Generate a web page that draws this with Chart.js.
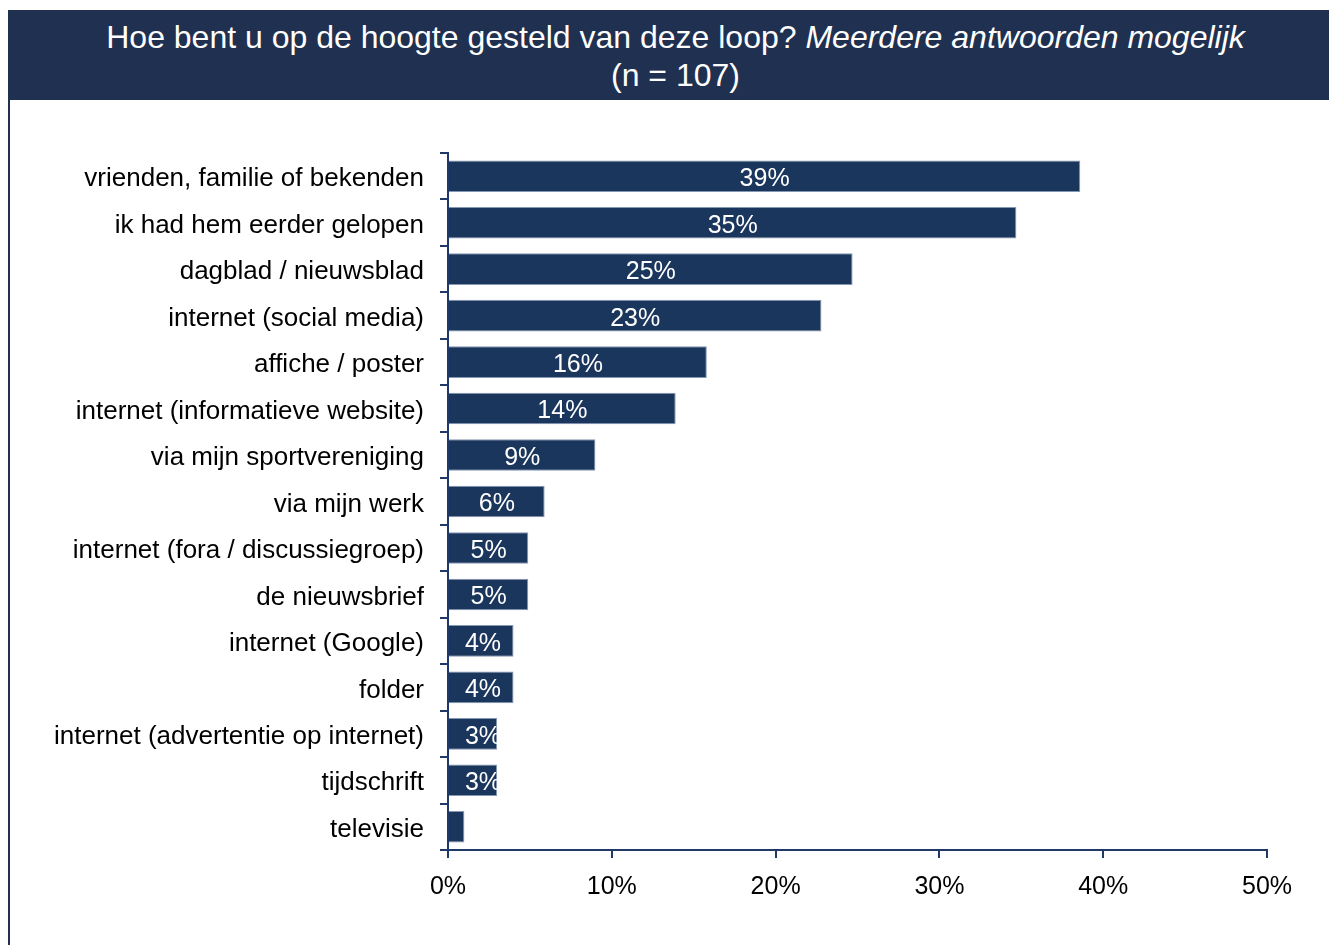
<!DOCTYPE html>
<html>
<head>
<meta charset="utf-8">
<script src="https://cdn.jsdelivr.net/npm/chart.js@4/dist/chart.umd.min.js"></script>
<style>
  body { margin: 0; background: #fff; width: 1329px; height: 945px; overflow: hidden; font-family: "Liberation Sans", Arial, sans-serif; }
  #titel { position: absolute; left: 8px; top: 10px; width: 1321px; height: 90px; background: #1f3050; color: #fff; font-size: 32px; line-height: 38px; text-align: center; box-sizing: border-box; padding-top: 8px; padding-left: 14px; }
  #rand { position: absolute; left: 8px; top: 100px; width: 2px; height: 845px; background: #1f3050; }
  #wrap { position: absolute; left: 0; top: 100px; width: 1329px; height: 845px; }
</style>
</head>
<body>
<div id="titel">Hoe bent u op de hoogte gesteld van deze loop? <i>Meerdere antwoorden mogelijk</i><br>(n = 107)</div>
<div id="rand"></div>
<div id="wrap"><canvas id="grafiek"></canvas></div>
<script>
const categorieen = [
  "vrienden, familie of bekenden",
  "ik had hem eerder gelopen",
  "dagblad / nieuwsblad",
  "internet (social media)",
  "affiche / poster",
  "internet (informatieve website)",
  "via mijn sportvereniging",
  "via mijn werk",
  "internet (fora / discussiegroep)",
  "de nieuwsbrief",
  "internet (Google)",
  "folder",
  "internet (advertentie op internet)",
  "tijdschrift",
  "televisie"
]
const percentages = [38.6, 34.7, 24.7, 22.8, 15.8, 13.9, 9.0, 5.9, 4.9, 4.9, 4.0, 4.0, 3.0, 3.0, 1.0]
const asTicks = [0, 10, 20, 30, 40, 50]

const donkerblauw = "#1b365d"
const aslijn = "#1f3a68"
const lettertype = "'Liberation Sans', Arial, sans-serif"

// witte percentages midden in de balk, afgeknipt op de balk zelf
const balkLabels = {
  id: "balkLabels",
  afterDatasetsDraw(chart) {
    const ctx = chart.ctx
    const meta = chart.getDatasetMeta(0)
    meta.data.forEach((bar, i) => {
      const v = percentages[i]
      if (v < 1.5) return
      const p = bar.getProps(["x", "y", "base", "height"], true)
      ctx.save()
      ctx.beginPath()
      ctx.rect(p.base, p.y - p.height / 2, p.x - p.base, p.height)
      ctx.clip()
      ctx.fillStyle = "#fff"
      ctx.font = "25px " + lettertype
      ctx.textAlign = "center"
      ctx.textBaseline = "middle"
      let cx = (p.base + p.x) / 2
      if (cx < p.base + 34) cx = p.base + 34
      ctx.fillText(Math.round(v) + "%", cx, p.y + 3)
      ctx.restore()
    })
  }
}

new Chart(document.querySelector("#grafiek"), {
  type: "bar",
  data: {
    labels: categorieen,
    datasets: [{
      data: percentages,
      backgroundColor: donkerblauw,
      borderColor: "#8497b3",
      borderWidth: 1,
      barPercentage: 0.68,
      categoryPercentage: 1
    }]
  },
  options: {
    indexAxis: "y",
    responsive: true,
    maintainAspectRatio: false,
    animation: false,
    layout: { padding: { top: 53, right: 62, left: 0, bottom: 0 } },
    plugins: { legend: { display: false }, tooltip: { enabled: false } },
    scales: {
      y: {
        afterFit(scale) { scale.width = 448 },
        grid: { drawOnChartArea: false, offset: true, tickLength: 8, color: aslijn, lineWidth: 2 },
        border: { color: aslijn, width: 2 },
        ticks: { color: "#000", padding: 16, labelOffset: 3, font: { size: 26, family: lettertype } }
      },
      x: {
        min: 0,
        max: 50,
        afterFit(scale) { scale.height = 95 },
        afterBuildTicks(scale) { scale.ticks = asTicks.map(v => ({ value: v })) },
        grid: { drawOnChartArea: false, tickLength: 8, color: aslijn, lineWidth: 2 },
        border: { color: aslijn, width: 2 },
        ticks: { color: "#000", padding: 14, callback: v => v + "%", font: { size: 25, family: lettertype } }
      }
    }
  },
  plugins: [balkLabels]
})
</script>
</body>
</html>
